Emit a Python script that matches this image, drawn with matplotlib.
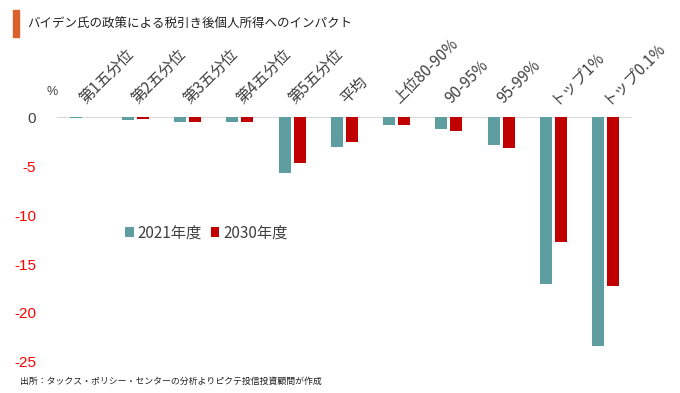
import numpy as np
import matplotlib
matplotlib.use("Agg")
import matplotlib.pyplot as plt
from matplotlib.patches import Rectangle

plt.rcParams['font.family'] = ['Noto Sans CJK JP', 'DejaVu Sans']

categories = ["第1五分位", "第2五分位", "第3五分位", "第4五分位", "第5五分位", "平均",
              "上位80-90%", "90-95%", "95-99%", "トップ1%", "トップ0.1%"]
fy2021 = [-0.1, -0.3, -0.45, -0.5, -5.7, -3.1, -0.8, -1.2, -2.8, -17.0, -23.4]
fy2030 = [0.0, -0.2, -0.45, -0.5, -4.7, -2.5, -0.8, -1.45, -3.2, -12.8, -17.2]
yticks = [0, -5, -10, -15, -20, -25]

teal = "#5F9EA0"
red = "#C00000"
gray = "#404040"

fig = plt.figure(figsize=(6.8, 3.93), dpi=100)
ax = fig.add_axes([0.084, 0.079, 0.845, 0.623])

x = np.arange(len(categories))
w = 0.23
ax.bar(x - 0.143, fy2021, w, color=teal, label="2021年度")
ax.bar(x + 0.143, fy2030, w, color=red, label="2030年度")

ax.axhline(0, color="#D9D9D9", lw=1.5, zorder=0)
ax.set_xlim(-0.5, len(categories) - 0.5)
ax.set_ylim(-25, 0)

for s in ax.spines.values():
    s.set_visible(False)
ax.set_xticks([])
ax.set_yticks(yticks)
ax.set_yticklabels([str(v) for v in yticks], family=['Liberation Sans'], fontsize=11)
ax.tick_params(axis='y', length=0, pad=15)
for lab, v in zip(ax.get_yticklabels(), yticks):
    lab.set_color(gray if v == 0 else "#FF0000")

ax.text(-0.6, 2.0, "%", fontsize=9, color=gray, ha="center", va="bottom",
        family=['Liberation Sans'])

for i, c in enumerate(categories):
    ax.text(i + 0.1, 1.0, c, rotation=45, rotation_mode="anchor", ha="left",
            va="bottom", fontsize=11, color=gray, clip_on=False)

ax.legend(loc="center left", bbox_to_anchor=(0.108, 0.527), ncol=2, frameon=False,
          handlelength=0.55, handleheight=0.55, handletextpad=0.25, columnspacing=0.6,
          fontsize=11, labelcolor=gray, borderaxespad=0)

fig.patches.append(Rectangle((13 / 680, 1 - 37 / 393), 6 / 680, 27 / 393,
                             transform=fig.transFigure, color="#D9622B"))
fig.text(27 / 680, 1 - 24 / 393, "バイデン氏の政策による税引き後個人所得へのインパクト",
         fontsize=9, color="#202020", va="center", ha="left")
fig.text(20 / 680, 1 - 381 / 393, "出所：タックス・ポリシー・センターの分析よりピクテ投信投資顧問が作成",
         fontsize=6.4, color="#202020", va="center", ha="left")

fig.savefig("out.png", dpi=100)
